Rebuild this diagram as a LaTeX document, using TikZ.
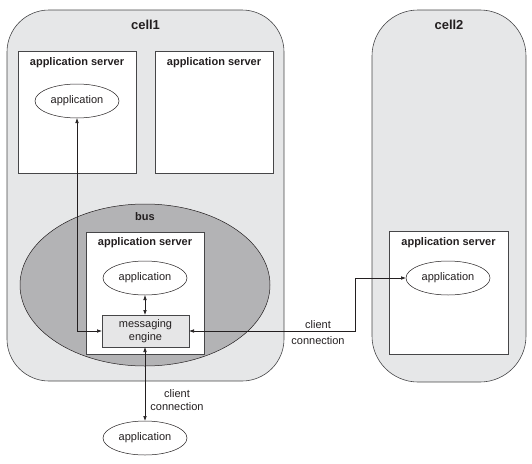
\documentclass[tikz,border=0pt]{standalone}
\usepackage{fontspec}
\setmainfont{Liberation Sans}
\usetikzlibrary{arrows.meta,shapes.geometric}
\definecolor{cellfill}{RGB}{230,231,232}
\definecolor{busfill}{RGB}{179,179,181}
\definecolor{mefill}{RGB}{230,230,231}
\definecolor{edge}{RGB}{70,70,72}
\definecolor{ink}{RGB}{35,31,32}
\tikzset{
  cellbox/.style={draw=edge, line width=0.6pt, fill=cellfill, rectangle, inner sep=0pt, outer sep=0pt},
  serverbox/.style={draw=edge, line width=0.7pt, fill=white, rectangle, minimum width=118pt, minimum height=122pt, inner sep=0pt, outer sep=0pt},
  appnode/.style={draw=ink, line width=0.5pt, fill=white, ellipse, minimum width=84pt, minimum height=34pt, inner sep=0pt, outer sep=0pt, font=\fontsize{11}{13}\selectfont, text=ink},
  menode/.style={draw=edge, line width=0.7pt, fill=mefill, rectangle, minimum width=87pt, minimum height=32pt, inner sep=0pt, outer sep=0pt, align=center, font=\fontsize{11}{12.5}\selectfont, text=ink},
  titletext/.style={font=\bfseries\fontsize{11}{13}\selectfont, text=ink, inner sep=0pt},
  celltext/.style={font=\bfseries\fontsize{13}{15}\selectfont, text=ink, inner sep=0pt},
  conn/.style={draw=ink, line width=0.6pt, {Latex[length=5pt,width=3.6pt]}-{Latex[length=5pt,width=3.6pt]}},
  lbltext/.style={font=\fontsize{11}{13}\selectfont, text=ink, align=center, inner sep=0pt}
}
\begin{document}
\begin{tikzpicture}[x=1pt,y=-1pt]
\useasboundingbox (0,0) rectangle (532,463);
% cells
\node[cellbox, rounded corners=42pt, minimum width=277pt, minimum height=371pt] (cell1) at (145.5,195.5) {};
\node[cellbox, rounded corners=46pt, minimum width=154pt, minimum height=372pt] (cell2) at (449,196) {};
\node[celltext] (cell1t) at (145.5,25) {cell1};
\node[celltext] (cell2t) at (449,25) {cell2};
% top servers
\node[serverbox] (as1) at (77,112) {};
\node[serverbox] (as2) at (214,112) {};
\node[titletext] (as1t) at (77,63) {application server};
\node[titletext] (as2t) at (214,63) {application server};
\node[appnode] (app1) at (77,101) {application};
% bus
\node[draw=ink, line width=0.5pt, fill=busfill, ellipse, minimum width=250pt, minimum height=162pt, inner sep=0pt] (bus) at (145,285) {};
\node[titletext] (bust) at (145,217) {bus};
\node[serverbox] (as3) at (145,293) {};
\node[titletext] (as3t) at (145,243) {application server};
\node[appnode] (app3) at (145,278) {application};
\node[menode] (me) at (145.5,331) {messaging\\engine};
% cell2 server
\node[serverbox, minimum width=119pt, minimum height=123pt] (as4) at (448.5,292.5) {};
\node[titletext] (as4t) at (448.5,243) {application server};
\node[appnode] (app4) at (448,278) {application};
% external application
\node[appnode] (app5) at (145,438) {application};
% connectors
\coordinate (knee) at (355,0);
\draw[conn] (app1.south) |- (me.west);
\draw[conn] (app3.south) -- (me.north -| app3.south);
\draw[conn] (me.east) -| (knee |- app4.west) -- (app4.west);
\draw[conn] (me.south -| app5.north) -- (app5.north);
% labels
\node[lbltext, font=\fontsize{11}{16}\selectfont] (lbl1) at (318,333) {client\\connection};
\node[lbltext, font=\fontsize{11}{12.5}\selectfont] (lbl2) at (177,400) {client\\connection};
\end{tikzpicture}
\end{document}
